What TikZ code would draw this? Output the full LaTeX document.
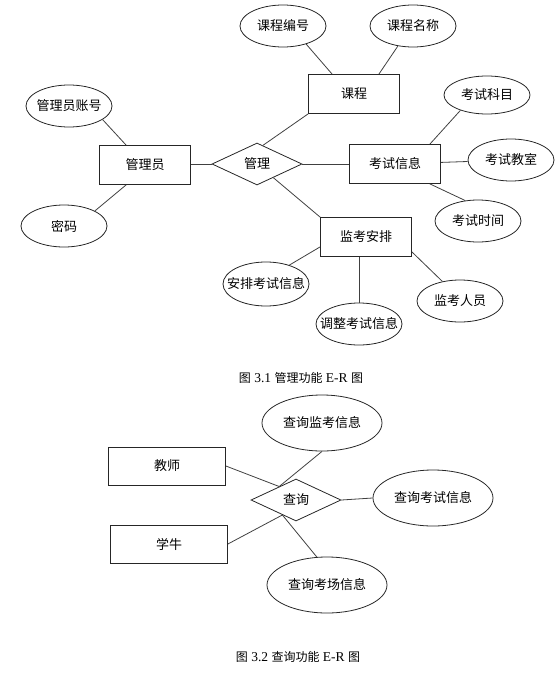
\documentclass[tikz,border=0pt]{standalone}
\usepackage{fontspec}
\setmainfont{Noto Sans CJK SC}
\newfontfamily\capfont{Liberation Serif}
\usetikzlibrary{shapes.geometric, calc}
\newcommand{\caplatin}[1]{{\capfont\fontsize{13.5}{15}\selectfont\ #1\ }}

\begin{document}
\begin{tikzpicture}[x=1pt, y=-1pt,
  font=\fontsize{13}{15}\selectfont,
  entity/.style={rectangle, draw=black!85, line width=0.8pt, minimum width=91pt, minimum height=39pt, inner sep=0pt},
  attr/.style={ellipse, draw=black!85, line width=0.8pt, minimum width=86pt, minimum height=42pt, inner sep=0pt},
  relation/.style={diamond, draw=black!85, line width=0.8pt, minimum width=90pt, minimum height=42pt, inner sep=0pt},
  big entity/.style={entity, minimum width=117pt, minimum height=38pt},
  big attr/.style={attr, minimum width=120pt, minimum height=56pt},
  caption/.style={font=\fontsize{12}{14}\selectfont},
  conn/.style={draw=black!75, line width=0.8pt}]
  \useasboundingbox (0,0) rectangle (555,677);

  \node[attr] (CourseNo) at (283,26) {课程编号};
  \node[attr] (CourseName) at (413,26) {课程名称};
  \node[entity] (Course) at (354,94) {课程};
  \node[attr] (AdminNo) at (69,106) {\makebox[0pt]{管理员账号}};
  \node[entity] (Admin) at (145,165) {管理员};
  \node[relation] (Manage) at (257,164) {管理};
  \node[entity] (ExamInfo) at (395,164) {考试信息};
  \node[attr, minimum height=38pt] (Subject) at (487,95) {考试科目};
  \node[attr] (Room) at (511,160) {考试教室};
  \node[attr] (Time) at (478,221) {考试时间};
  \node[attr] (Pwd) at (64,226) {密码};
  \node[entity] (Invig) at (366,237) {监考安排};
  \node[attr, minimum height=44pt] (Arrange) at (266,284) {\makebox[0pt]{安排考试信息}};
  \node[attr] (Adjust) at (359,324) {\makebox[0pt]{调整考试信息}};
  \node[attr] (Staff) at (460,301) {监考人员};
  \node[caption] (CapA) at (301,378) {图\caplatin{3.1}管理功能\caplatin{E-R}图};

  \draw[conn] (AdminNo.-22) -- ([xshift=27pt]Admin.north west);
  \draw[conn] (Pwd.26) -- ([xshift=27pt]Admin.south west);
  \draw[conn] (Admin) -- (Manage);
  \draw[conn] (CourseNo.-38) -- ([xshift=24pt]Course.north west);
  \draw[conn] (CourseName.-127) -- ([xshift=-21pt]Course.north east);
  \draw[conn] ($(Manage.north)!0.13!(Manage.east)$) -- (Course.south west);
  \draw[conn] (Manage) -- (ExamInfo);
  \draw[conn] ($(Manage.south)!0.36!(Manage.east)$) -- (Invig.north west);
  \draw[conn] ([xshift=-11pt]ExamInfo.north east) -- (Subject.-150);
  \draw[conn] (ExamInfo) -- (Room);
  \draw[conn] ([xshift=-11pt]ExamInfo.south east) -- (Time.122);
  \draw[conn] ([yshift=10pt]Invig.south west) -- (Arrange.39);
  \draw[conn] (Invig.south -| Adjust.north) -- (Adjust.north);
  \draw[conn] ([yshift=5pt]Invig.south east) -- (Staff.132);

  \node[big attr] (MonitorQ) at (322,423) {查询监考信息};
  \node[big entity] (Teacher) at (167,466) {教师};
  \node[relation] (Query) at (296,500) {查询};
  \node[big attr] (ExamQ) at (433,498) {查询考试信息};
  \node[big entity] (Student) at (169,544) {学牛};
  \node[big attr] (RoomQ) at (327,585) {查询考场信息};
  \node[caption] (CapB) at (298,657) {图\caplatin{3.2}查询功能\caplatin{E-R}图};

  \coordinate (QUp) at ($(Query.west)!0.63!(Query.north)$);
  \coordinate (QDown) at ($(Query.west)!0.7!(Query.south)$);
  \draw[conn] (Teacher.east) -- (QUp);
  \draw[conn] (MonitorQ.south) -- (QUp);
  \draw[conn] (Student.east) -- (QDown);
  \draw[conn] (RoomQ.110) -- (QDown);
  \draw[conn] (Query.east) -- (ExamQ.west);
\end{tikzpicture}
\end{document}
